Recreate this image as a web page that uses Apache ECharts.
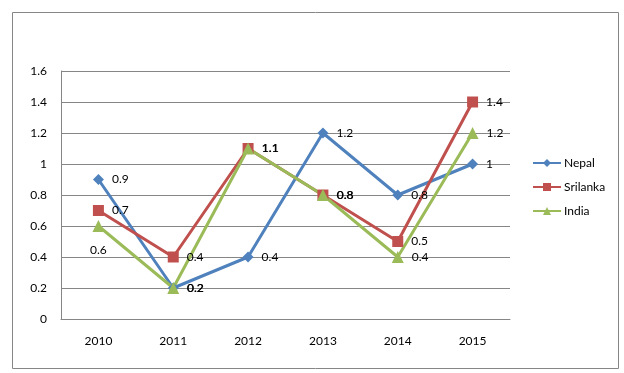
<!DOCTYPE html>
<html><head><meta charset="utf-8">
<script src="https://cdn.jsdelivr.net/npm/echarts@6/dist/echarts.min.js"></script>
<style>html,body{margin:0;padding:0;background:#fff}#c{width:624px;height:373px}</style>
</head><body><div id="c"></div>
<script>
var categories = ['2010','2011','2012','2013','2014','2015'];
var nepal = [0.9, 0.2, 0.4, 1.2, 0.8, 1];
var srilanka = [0.7, 0.4, 1.1, 0.8, 0.5, 1.4];
var india = [0.6, 0.2, 1.1, 0.8, 0.4, 1.2];
var yTicks = [0, 0.2, 0.4, 0.6, 0.8, 1, 1.2, 1.4, 1.6];

var font = 'Lato, "Liberation Sans", sans-serif';
var chart = echarts.init(document.getElementById('c'), null, {renderer:'canvas'});
function lbl(pos){
  return {show:true, position:pos||'right', distance:8, color:'#000', fontSize:12, fontFamily:font,
    formatter:function(p){return String(p.value);}};
}
function ser(name, data, sym, size, color, extra){
  var s = {name:name, type:'line', data:data, symbol:sym, symbolSize:size,
    showAllSymbol:true, lineStyle:{width:3, color:color}, itemStyle:{color:color},
    label:lbl('right'), emphasis:{disabled:true}, animation:false};
  if (extra) Object.assign(s, extra);
  return s;
}
var indiaData = india.map(function(v,i){
  if (i===0) return {value:v, label:{position:'bottom', distance:12}};
  return v;
});
chart.setOption({
  animation:false,
  textStyle:{fontFamily:font},
  graphic:[{type:'rect', shape:{x:12.5,y:12.5,width:606,height:356}, style:{fill:'none', stroke:'#868686', lineWidth:1}, silent:true}],
  grid:{left:61, right:114, top:71, bottom:54, containLabel:false},
  legend:{orient:'vertical', left:527, top:152, itemGap:12, itemWidth:28, itemHeight:10,
    textStyle:{fontSize:12, fontFamily:font, color:'#000', padding:[0,0,0,-2]},
    data:['Nepal','Srilanka','India']},
  xAxis:{type:'category', data:categories, boundaryGap:true,
    axisLine:{show:true, lineStyle:{color:'#868686', width:1}}, axisTick:{show:false},
    axisLabel:{color:'#000', fontSize:12, fontFamily:font, margin:16}},
  yAxis:{type:'value', min:0, max:1.6, interval:0.2,
    axisLine:{show:true, lineStyle:{color:'#868686', width:1}}, axisTick:{show:false},
    splitLine:{lineStyle:{color:'#868686', width:1}},
    axisLabel:{color:'#000', fontSize:12, fontFamily:font, margin:14,
      formatter:function(v){ var t = yTicks.filter(function(k){return Math.abs(k-v)<1e-9;}); return t.length? String(t[0]) : ''; }}},
  series:[
    ser('Nepal', nepal, 'diamond', 11, '#4F81BD'),
    ser('Srilanka', srilanka, 'rect', 11, '#C0504D'),
    ser('India', indiaData, 'triangle', 12, '#9BBB59')
  ]
});
</script></body></html>
